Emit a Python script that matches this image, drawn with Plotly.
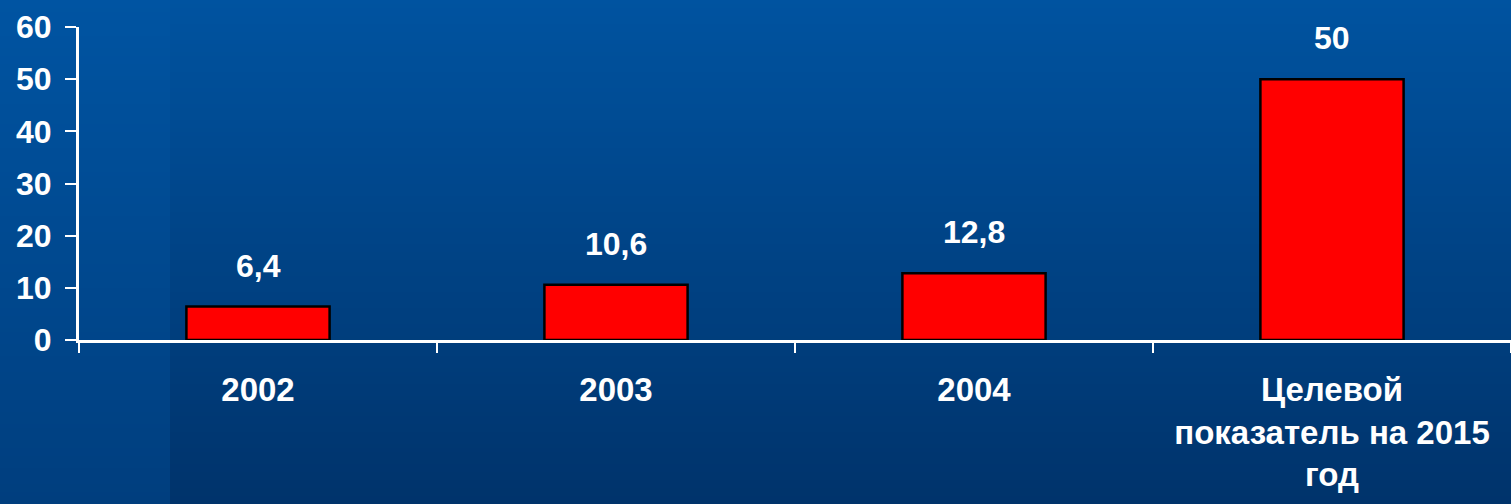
import plotly.graph_objects as go

categories = ["2002", "2003", "2004", "Целевой<br>показатель на 2015<br>год"]
values = [6.4, 10.6, 12.8, 50]
y_ticks = [0, 10, 20, 30, 40, 50, 60]

W, H = 1511, 504
ML, MR, MT, MB = 79, 0, 27, 164
PW, PH = W - ML - MR, H - MT - MB

def px_to_paper_x(px):
    return (px - ML) / PW

def py_to_paper_y(py):
    return (H - MB - py) / PH

def lerp(c1, c2, t):
    return "rgb(%d,%d,%d)" % tuple(round(a + (b - a) * t) for a, b in zip(c1, c2))

top = (0, 83, 160)
bot = (0, 51, 107)
left_top = (0, 84, 162)
left_bot = (0, 62, 126)

shapes = []
n = 126
for i in range(n):
    y0p = i * H / n
    y1p = (i + 1) * H / n
    t = (i + 0.5) / n
    shapes.append(dict(type="rect", xref="paper", yref="paper",
                       x0=px_to_paper_x(170), x1=px_to_paper_x(W + 2),
                       y0=py_to_paper_y(y1p + 0.5), y1=py_to_paper_y(y0p),
                       fillcolor=lerp(top, bot, t), line=dict(width=0), layer="below"))
    shapes.append(dict(type="rect", xref="paper", yref="paper",
                       x0=px_to_paper_x(-2), x1=px_to_paper_x(170),
                       y0=py_to_paper_y(y1p + 0.5), y1=py_to_paper_y(y0p),
                       fillcolor=lerp(left_top, left_bot, t), line=dict(width=0), layer="below"))

font_family = "Liberation Sans, Arial, sans-serif"
idx = list(range(len(categories)))

fig = go.Figure()
fig.add_trace(go.Bar(
    x=idx, y=values, width=0.4,
    marker=dict(color="#ff0000", line=dict(color="#000000", width=2.5)),
    hoverinfo="skip",
))

annotations = []
for i, v in zip(idx, values):
    annotations.append(dict(
        x=i, y=v, xref="x", yref="y", text=f"{v:g}".replace(".", ","),
        showarrow=False, yanchor="bottom", yshift=21,
        font=dict(family=font_family, size=32, color="white", weight="bold"),
    ))

fig.update_layout(
    width=W, height=H,
    margin=dict(l=ML, r=MR, t=MT, b=MB),
    paper_bgcolor="rgb(0,60,125)",
    plot_bgcolor="rgba(0,0,0,0)",
    showlegend=False,
    shapes=shapes,
    annotations=annotations,
)
fig.update_xaxes(
    range=[-0.5, len(categories) - 0.5],
    tickmode="array", tickvals=idx, ticktext=categories,
    ticks="", ticklen=10,
    minor=dict(tickmode="array", tickvals=[i - 0.5 for i in idx] + [len(idx) - 0.5],
               ticks="outside", ticklen=10, tickwidth=2, tickcolor="white", showgrid=False),
    showline=True, linecolor="white", linewidth=3,
    showgrid=False, zeroline=False,
    tickfont=dict(family=font_family, size=33, color="white", weight="bold"),
    ticklabelstandoff=18,
    tickangle=0,
)
fig.update_yaxes(
    range=[0, 60], tickvals=y_ticks,
    ticks="outside", ticklen=11, tickwidth=2, tickcolor="white",
    showline=True, linecolor="white", linewidth=3,
    showgrid=False, zeroline=False,
    tickfont=dict(family=font_family, size=32, color="white", weight="bold"),
    ticklabelstandoff=7,
)

fig.write_html(
    "out.html",
    config={"displayModeBar": False},
    post_script="document.body.style.margin='0';document.body.style.overflow='hidden';",
)
